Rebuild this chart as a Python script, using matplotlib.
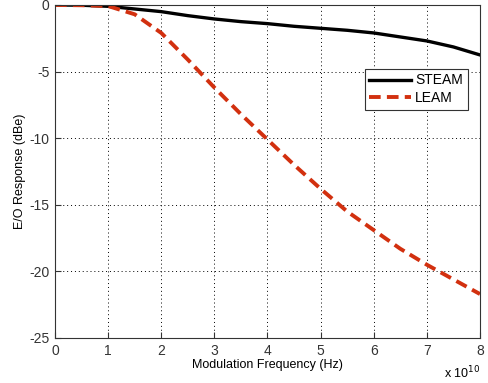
import matplotlib
matplotlib.use("Agg")
import matplotlib.pyplot as plt

plt.rcParams['font.family'] = ['Liberation Sans', 'DejaVu Sans']
plt.rcParams['axes.unicode_minus'] = False

freq = [0, 0.5, 1, 1.5, 2, 2.5, 3, 3.5, 4, 4.5, 5, 5.5, 6, 6.5, 7, 7.5, 8]
steam = [0, -0.02, -0.1, -0.3, -0.5, -0.8, -1.05, -1.25, -1.4, -1.6, -1.75, -1.9, -2.1, -2.4, -2.7, -3.15, -3.75]
leam = [0, -0.02, -0.08, -0.7, -2.1, -4.1, -6.2, -8.2, -10.1, -12.0, -13.8, -15.5, -16.9, -18.3, -19.5, -20.6, -21.7]

fig = plt.figure(figsize=(4.89, 3.83), dpi=100)
ax = fig.add_axes([0.1125, 0.1175, 0.869, 0.8695])

ax.plot(freq, steam, color="black", linewidth=2.4, label="STEAM")
ax.plot(freq, leam, color="#d2300f", linewidth=2.8, linestyle=(0, (3, 1.6)), label="LEAM")

ax.set_xlim(0, 8)
ax.set_ylim(-25, 0)
ax.set_xticks(range(0, 9))
ax.set_yticks([-25, -20, -15, -10, -5, 0])
ax.grid(True, color="black", linestyle=(0, (1, 3)), linewidth=0.7)
ax.tick_params(direction="in", labelsize=10, colors="#333333", length=4, pad=4)
for s in ax.spines.values():
    s.set_color("#333333")

ax.set_xlabel("Modulation Frequency (Hz)", fontsize=9, labelpad=1)
ax.set_ylabel("E/O Response (dBe)", fontsize=9, labelpad=2)
ax.text(1.0, -0.08, "x 10$^{10}$", transform=ax.transAxes, ha="right", va="top", fontsize=9)

leg = ax.legend(loc="upper right", bbox_to_anchor=(0.988, 0.83), fontsize=10, fancybox=False,
                framealpha=1, edgecolor="#333333", handlelength=3.0, borderpad=0.35,
                labelspacing=0.25, handletextpad=0.3)
leg.get_frame().set_linewidth(0.8)

fig.savefig("out.png", dpi=100)
